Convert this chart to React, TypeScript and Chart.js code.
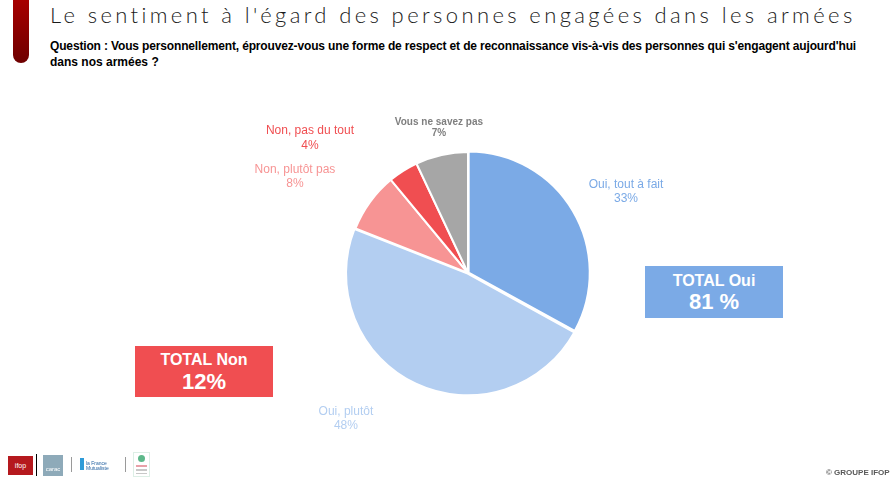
import React, { useEffect, useLayoutEffect, useRef } from "react";
import { Chart, registerables } from "chart.js";

Chart.register(...registerables);

const categories = ["Oui, tout à fait", "Oui, plutôt", "Non, plutôt pas", "Non, pas du tout", "Vous ne savez pas"];
const values = [33, 48, 8, 4, 7];
const valueLabels = ["33%", "48%", "8%", "4%", "7%"];
const sliceColors = ["#7BAAE6", "#B3CEF1", "#F79494", "#F04E51", "#A6A6A6"];
const labelColors = ["#7BAAE6", "#B3CEF1", "#F79494", "#F04E51", "#7F7F7F"];
const totalOuiLabel = "TOTAL Oui";
const totalOuiValue = "81 %";
const totalNonLabel = "TOTAL Non";
const totalNonValue = "12%";

const titleText = "Le sentiment à l'égard des personnes engagées dans les armées";
const questionLine1 =
  "Question : Vous personnellement, éprouvez-vous une forme de respect et de reconnaissance vis-à-vis des personnes qui s'engagent aujourd'hui";
const questionLine2 = "dans nos armées ?";

// label placement: angle shift (deg) from slice mid-angle, distance factor of radius, font, line gap
const labelPlacement = [
  { dAngle: 3.5, dist: 1.467, font: "12px 'Liberation Sans', Arial, sans-serif", gap: 14 },
  { dAngle: 14.8, dist: 1.57, font: "12px 'Liberation Sans', Arial, sans-serif", gap: 14 },
  { dAngle: -7, dist: 1.635, font: "12px 'Liberation Sans', Arial, sans-serif", gap: 14 },
  { dAngle: -17.2, dist: 1.715, font: "12px 'Liberation Sans', Arial, sans-serif", gap: 15 },
  { dAngle: 1.3, dist: 1.226, font: "bold 10px 'Liberation Sans', Arial, sans-serif", gap: 11 },
];

const outerLabels = {
  id: "outerLabels",
  afterDatasetsDraw(chart: any) {
    const ctx = chart.ctx;
    const meta = chart.getDatasetMeta(0);
    meta.data.forEach((arc: any, i: number) => {
      const { x, y, startAngle, endAngle, outerRadius } = arc.getProps(
        ["x", "y", "startAngle", "endAngle", "outerRadius"],
        true
      );
      const p = labelPlacement[i];
      const a = (startAngle + endAngle) / 2 + (p.dAngle * Math.PI) / 180;
      const d = outerRadius * p.dist;
      const cx = x + Math.cos(a) * d;
      const cy = y + Math.sin(a) * d;
      ctx.save();
      ctx.fillStyle = labelColors[i];
      ctx.font = p.font;
      ctx.textAlign = "center";
      ctx.textBaseline = "middle";
      ctx.fillText(categories[i], cx, cy - p.gap / 2);
      ctx.fillText(valueLabels[i], cx, cy + p.gap / 2);
      ctx.restore();
    });
  },
};

function PieChart() {
  const ref = useRef<HTMLCanvasElement | null>(null);
  useEffect(() => {
    if (!ref.current) return;
    const chart = new Chart(ref.current, {
      type: "pie",
      data: {
        labels: categories,
        datasets: [
          {
            data: values,
            backgroundColor: sliceColors,
            borderColor: "#FFFFFF",
            borderWidth: 2,
            offset: [3, 3, 0, 0, 0],
          },
        ],
      },
      options: {
        responsive: false,
        animation: false,
        layout: { padding: { left: 344.5, top: 149.5, right: 300.5, bottom: 84.5 } },
        plugins: { legend: { display: false }, tooltip: { enabled: false } },
      },
      plugins: [outerLabels],
    } as any);
    return () => chart.destroy();
  }, []);
  return (
    <canvas
      ref={ref}
      width={892}
      height={481}
      style={{ position: "absolute", left: 0, top: 0, width: 892, height: 481 }}
    />
  );
}

function FitText({ text, width, style }: { text: string; width: number; style: React.CSSProperties }) {
  const ref = useRef<HTMLSpanElement | null>(null);
  useLayoutEffect(() => {
    const el = ref.current;
    if (!el) return;
    el.style.letterSpacing = "0px";
    const w = el.getBoundingClientRect().width;
    const n = text.length;
    const ls = (width - w) / n;
    el.style.letterSpacing = ls + "px";
  }, [text, width]);
  return (
    <span ref={ref} style={{ whiteSpace: "nowrap", display: "inline-block", ...style }}>
      {text}
    </span>
  );
}

const boxText: React.CSSProperties = {
  fontFamily: "'Liberation Sans', Arial, sans-serif",
  color: "#FFFFFF",
  textAlign: "center",
  lineHeight: 1,
};

export default function App() {
  return (
    <div
      style={{
        position: "fixed",
        left: 0,
        top: 0,
        width: 892,
        height: 481,
        background: "#FFFFFF",
        overflow: "hidden",
      }}
    >
      {/* left red bar */}
      <div
        style={{
          position: "absolute",
          left: 13,
          top: -10,
          width: 16,
          height: 73,
          borderRadius: "0 0 8px 8px",
          background: "linear-gradient(#B00000, #6E0000)",
        }}
      />
      <div style={{ position: "absolute", left: 50, top: 2, height: 26 }}>
        <FitText
          text={titleText}
          width={806}
          style={{
            fontFamily: "Lato, 'Open Sans', 'DejaVu Sans', sans-serif",
            fontWeight: 300,
            fontSize: 22,
            color: "#1A1A1A",
            lineHeight: "26px",
          }}
        />
      </div>
      <div
        style={{
          position: "absolute",
          left: 50,
          top: 38,
          fontFamily: "'Liberation Sans Narrow', 'Arial Narrow', sans-serif",
          fontWeight: "bold",
          fontSize: 12,
          lineHeight: "16px",
          color: "#000000",
        }}
      >
        <FitText text={questionLine1} width={806} style={{}} />
        <br />
        <span>{questionLine2}</span>
      </div>

      <PieChart />

      {/* TOTAL Oui box */}
      <div
        style={{
          position: "absolute",
          left: 645,
          top: 266,
          width: 138,
          height: 52,
          background: "#7BAAE6",
        }}
      >
        <div style={{ ...boxText, position: "absolute", left: 0, right: 0, top: 7, fontSize: 16, fontWeight: "bold" }}>
          {totalOuiLabel}
        </div>
        <div style={{ ...boxText, position: "absolute", left: 0, right: 0, top: 25, fontSize: 22, fontWeight: "bold" }}>
          {totalOuiValue}
        </div>
      </div>

      {/* TOTAL Non box */}
      <div
        style={{
          position: "absolute",
          left: 135,
          top: 346,
          width: 138,
          height: 51,
          background: "#F04E51",
        }}
      >
        <div style={{ ...boxText, position: "absolute", left: 0, right: 0, top: 6, fontSize: 16, fontWeight: "bold" }}>
          {totalNonLabel}
        </div>
        <div style={{ ...boxText, position: "absolute", left: 0, right: 0, top: 25, fontSize: 22, fontWeight: "bold" }}>
          {totalNonValue}
        </div>
      </div>

      {/* logos */}
      <div
        style={{
          position: "absolute",
          left: 8,
          top: 456,
          width: 25,
          height: 19,
          background: "#B5191E",
          color: "#FFFFFF",
          fontFamily: "'Liberation Sans', Arial, sans-serif",
          fontSize: 7,
          lineHeight: "19px",
          textAlign: "center",
        }}
      >
        ifop
      </div>
      <div style={{ position: "absolute", left: 36, top: 454, width: 1, height: 22, background: "#000000" }} />
      <div
        style={{
          position: "absolute",
          left: 43,
          top: 455,
          width: 20,
          height: 21,
          background: "#8EAAB9",
          color: "#FFFFFF",
          fontFamily: "'Liberation Sans', Arial, sans-serif",
          fontSize: 6,
          lineHeight: "28px",
          textAlign: "center",
        }}
      >
        carac
      </div>
      <div style={{ position: "absolute", left: 71, top: 457, width: 1, height: 15, background: "#9A9A9A" }} />
      <div style={{ position: "absolute", left: 80, top: 458, width: 4, height: 12, background: "#2E9BD8" }} />
      <div
        style={{
          position: "absolute",
          left: 86,
          top: 461,
          fontFamily: "'Liberation Sans', Arial, sans-serif",
          fontSize: 5,
          lineHeight: "5px",
          color: "#1F5E9E",
        }}
      >
        la France
        <br />
        Mutualiste
      </div>
      <div style={{ position: "absolute", left: 125, top: 457, width: 1, height: 15, background: "#9A9A9A" }} />
      <div
        style={{
          position: "absolute",
          left: 133,
          top: 452,
          width: 17,
          height: 25,
          border: "1px solid #DDEFE6",
          boxSizing: "border-box",
        }}
      >
        <div style={{ position: "absolute", left: 4, top: 2, width: 7, height: 7, borderRadius: 4, background: "#5DB88A" }} />
        <div style={{ position: "absolute", left: 2, top: 12, width: 11, height: 2, background: "#E8A0A8" }} />
        <div style={{ position: "absolute", left: 2, top: 16, width: 11, height: 2, background: "#C8C8C8" }} />
        <div style={{ position: "absolute", left: 2, top: 20, width: 11, height: 1, background: "#C8C8C8" }} />
      </div>

      <div
        style={{
          position: "absolute",
          left: 826,
          top: 468,
          fontFamily: "'Liberation Sans', Arial, sans-serif",
          fontWeight: "bold",
          fontSize: 8,
          lineHeight: "10px",
          color: "#595959",
          whiteSpace: "nowrap",
        }}
      >
        © GROUPE IFOP
      </div>
    </div>
  );
}
